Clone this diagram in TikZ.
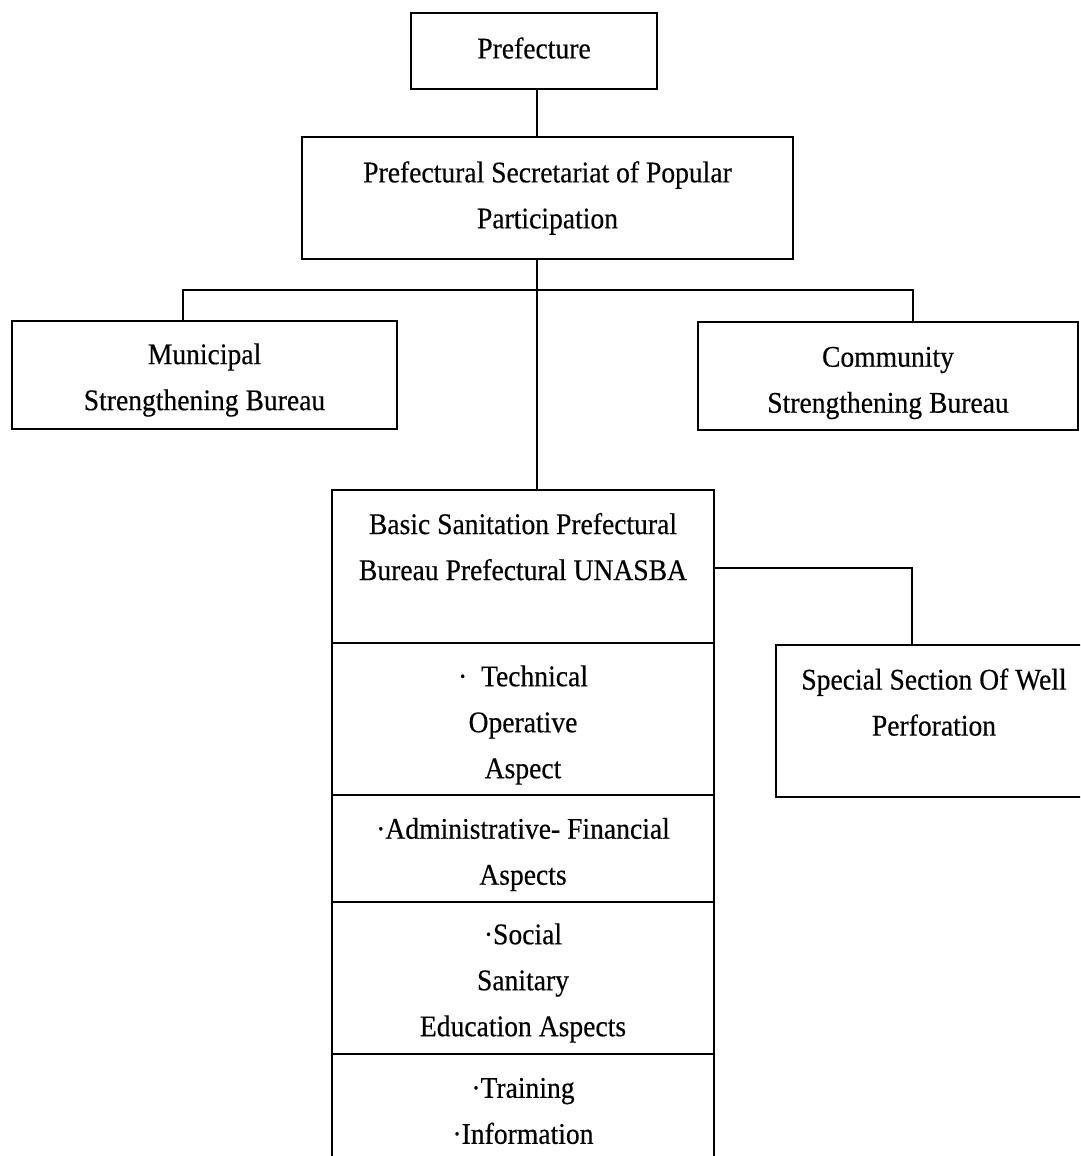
\documentclass[tikz,border=0pt]{standalone}
\usepackage{fontspec}
\setmainfont{Liberation Serif}[FakeStretch=0.92,FakeBold=0.4]
\begin{document}
\begin{tikzpicture}[x=1pt,y=-1pt,
  frame/.style={draw=black,line width=1.9pt,rectangle,inner sep=0pt},
  txt/.style={inner sep=0pt,align=center,font=\fontsize{30}{46}\selectfont},
  link/.style={draw=black,line width=1.5pt}]
  \useasboundingbox (0,0) rectangle (1080,1156);
  \clip (0,0) rectangle (1080,1156);

  % top of the hierarchy
  \node[frame,minimum width=246pt,minimum height=76pt] (pref) at (534,51) {};
  \node[txt] (prefT) at ([yshift=3pt]pref.center) {Prefecture};
  \node[frame,minimum width=491pt,minimum height=122pt] (sec) at (547.5,198) {};
  \node[txt] (secT) at (sec.center) {Prefectural Secretariat of Popular\\Participation};

  % bureaus on either side
  \node[frame,minimum width=385pt,minimum height=108pt] (muni) at (204.5,375) {};
  \node[txt] (muniT) at ([yshift=-5pt]muni.center) {Municipal\\Strengthening Bureau};
  \node[frame,minimum width=380pt,minimum height=108pt] (comm) at (888,376) {};
  \node[txt] (commT) at ([yshift=-7pt]comm.center) {Community\\Strengthening Bureau};

  % stacked sanitation bureau and its sections
  \node[frame,minimum width=382pt,minimum height=153pt] (top) at (523,566.5) {};
  \node[txt] (topT) at ([yshift=-3pt]top.center)
    {Basic Sanitation Prefectural\\Bureau Prefectural UNASBA\\~};
  \node[frame,minimum width=382pt,minimum height=152pt] (tech) at (523,719) {};
  \node[txt] (techT) at ([yshift=-6pt]tech.center) {·\ \ Technical\\Operative\\Aspect};
  \node[frame,minimum width=382pt,minimum height=107pt] (admin) at (523,848.5) {};
  \node[txt] (adminT) at ([yshift=-6pt]admin.center) {·Administrative- Financial\\Aspects};
  \node[frame,minimum width=382pt,minimum height=152pt] (soc) at (523,978) {};
  \node[txt] (socT) at ([yshift=-5pt]soc.center) {·Social\\Sanitary\\Education Aspects};
  \node[frame,minimum width=382pt,minimum height=114pt] (train) at (523,1111) {};
  \node[txt] (trainT) at (train.center) {·Training\\·Information};

  % well drilling section
  \node[frame,minimum width=316pt,minimum height=152pt] (spec) at (934,721) {};
  \node[txt] (specT) at ([yshift=-4pt]spec.center) {Special Section Of Well\\Perforation\\~};

  % connectors
  \coordinate (spine) at (537,290);
  \coordinate (busL) at (183,290);
  \coordinate (busR) at (913,290);
  \coordinate (elbow) at (912,568);

  \draw[link] (spine |- pref.south) -- (spine |- sec.north);
  \draw[link] (spine |- sec.south) -- (spine |- top.north);
  \draw[link] (busL |- muni.north) -- (busL) -- (busR) -- (busR |- comm.north);
  \draw[link] (top.east |- elbow) -- (elbow) -- (elbow |- spec.north);
\end{tikzpicture}
\end{document}
